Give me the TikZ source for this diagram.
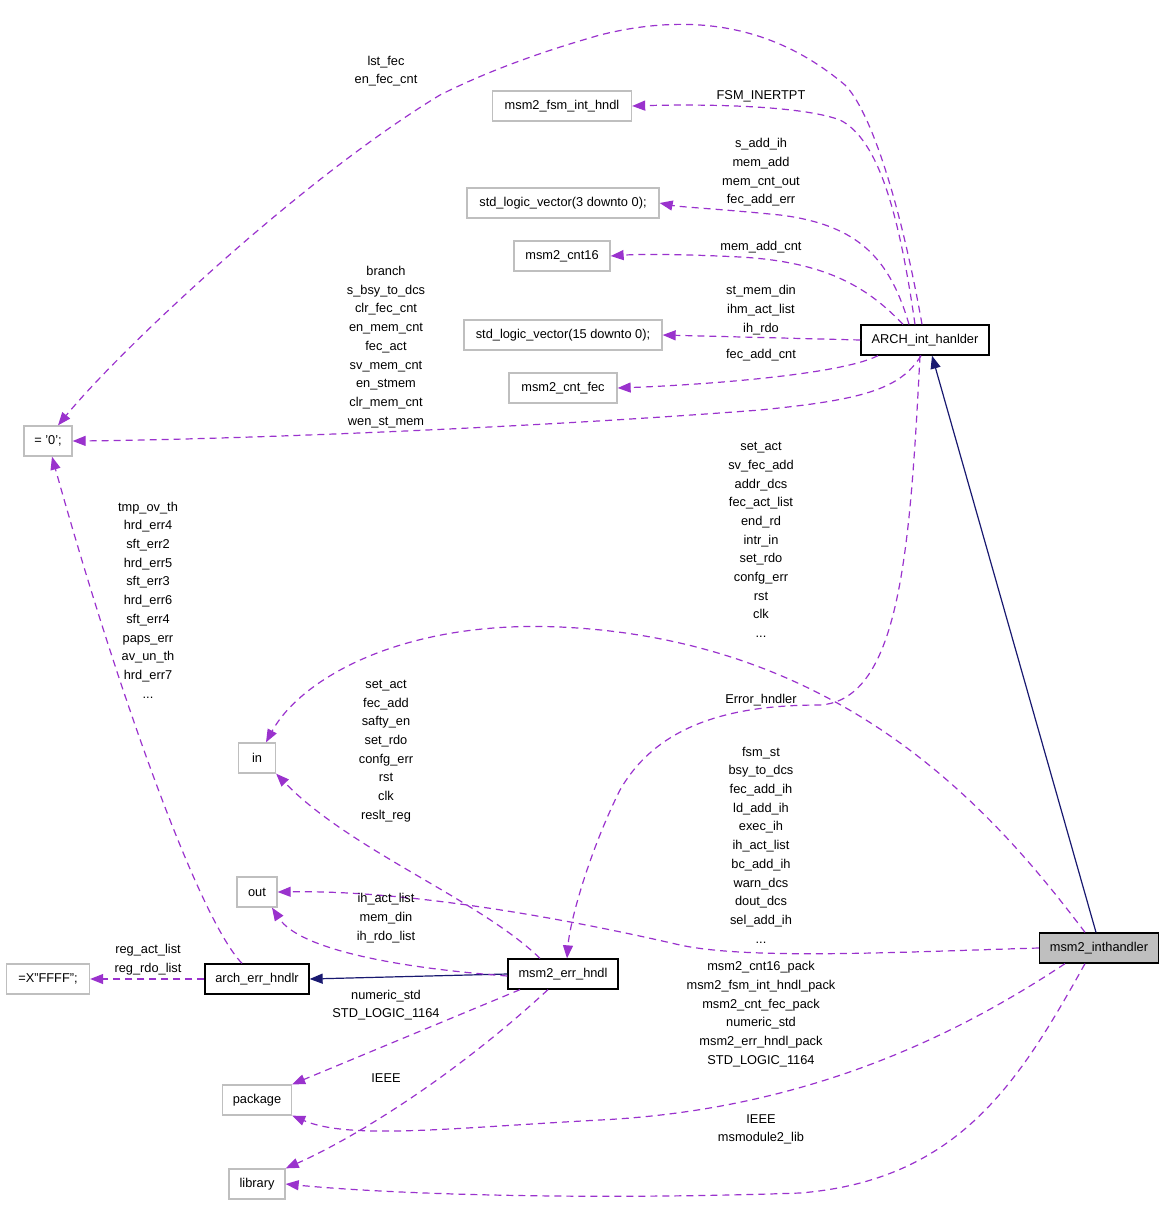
\documentclass[tikz,border=0pt]{standalone}
\usepackage{fontspec}
\setmainfont{Liberation Sans}
\usetikzlibrary{arrows.meta}
\definecolor{dep}{HTML}{9A32CD}
\definecolor{inh}{HTML}{191970}
\definecolor{gbord}{HTML}{BFBFBF}
\definecolor{ifill}{HTML}{BFBFBF}
\begin{document}
\begin{tikzpicture}[x=1pt,y=-1pt,
  every node/.style={font=\fontsize{12.8}{18.7}\selectfont, inner sep=0pt},
  box/.style={draw=gbord, line width=1.3pt, minimum height=30pt},
  bbox/.style={draw=black, line width=1.3pt, minimum height=30pt},
  mbox/.style={draw=black, fill=ifill, line width=1.3pt, minimum height=30pt},
  lab/.style={align=center},
  depedge/.style={draw=dep, line width=1.2pt, dash pattern=on 7pt off 5pt, -{Triangle[length=13pt,width=10pt]}},
  inhedge/.style={draw=inh, line width=1.2pt, -{Triangle[length=13pt,width=10pt]}}
]
\useasboundingbox (0,0) rectangle (1165,1205);

% nodes
\node[box, minimum width=139pt] (fsm) at (562,106) {msm2\_fsm\_int\_hndl};
\node[box, minimum width=192pt] (std3) at (563,203) {std\_logic\_vector(3 downto 0);};
\node[box, minimum width=96pt] (cnt16) at (562,256) {msm2\_cnt16};
\node[box, minimum width=198pt] (std15) at (563,335) {std\_logic\_vector(15 downto 0);};
\node[box, minimum width=108pt] (cntfec) at (563,388) {msm2\_cnt\_fec};
\node[bbox, minimum width=128pt] (arch) at (925,340) {ARCH\_int\_hanlder};
\node[box, minimum width=48pt] (zero) at (48,441) {= '0';};
\node[box, minimum width=37pt] (in) at (257,758) {in};
\node[box, minimum width=40pt] (out) at (257,892) {out};
\node[box, minimum width=83pt] (xffff) at (48,979) {=X"FFFF";};
\node[bbox, minimum width=104pt] (aeh) at (257,979) {arch\_err\_hndlr};
\node[bbox, minimum width=110pt] (err) at (563,974) {msm2\_err\_hndl};
\node[mbox, minimum width=119pt] (inth) at (1099,948) {msm2\_inthandler};
\node[box, minimum width=69pt] (pkg) at (257,1100) {package};
\node[box, minimum width=56pt] (lib) at (257,1184) {library};

% edges from ARCH_int_hanlder
\draw[depedge] ([xshift=-10pt]arch.north) .. controls (900,220) and (880,140) .. (840,120) .. controls (800,105) and (700,104) .. (fsm.east);
\draw[depedge] ([xshift=-16pt]arch.north) .. controls (890,260) and (860,225) .. (780,215) .. controls (720,209) and (680,207) .. (std3.east);
\draw[depedge] ([xshift=-22pt]arch.north) .. controls (870,290) and (830,262) .. (740,257) .. controls (680,254) and (640,254) .. (cnt16.east);
\draw[depedge] (arch.west) -- (std15.east);
\draw[depedge] ([xshift=-47pt]arch.south) .. controls (840,375) and (700,385) .. (cntfec.east);
\draw[depedge] ([xshift=-4pt]arch.south) .. controls (900,390) and (860,400) .. (760,410) .. controls (500,430) and (200,440) .. (zero.east);
\draw[depedge] ([xshift=-3pt]arch.north) .. controls (900,200) and (870,110) .. (845,85) .. controls (780,30) and (700,10) .. (600,35) .. controls (530,55) and (480,75) .. (440,95) .. controls (300,180) and (120,350) .. ([xshift=10pt]zero.north);
\draw[depedge] ([xshift=-5pt]arch.south) .. controls (910,550) and (900,700) .. (820,705) .. controls (740,705) and (660,720) .. (620,790) .. controls (590,850) and (570,920) .. ([xshift=4pt]err.north);

% edges from msm2_inthandler
\draw[inhedge] ([xshift=-3pt]inth.north) -- ([xshift=7pt]arch.south);
\draw[depedge] ([xshift=-14pt]inth.north) .. controls (1000,820) and (850,640) .. (560,627) .. controls (400,620) and (300,680) .. ([xshift=9pt]in.north);
\draw[depedge] (inth.west) .. controls (900,952) and (750,960) .. (680,945) .. controls (550,915) and (400,890) .. (out.east);
\draw[depedge] ([xshift=-34pt]inth.south) .. controls (950,1040) and (800,1110) .. (600,1120) .. controls (450,1128) and (350,1140) .. (pkg.south east);
\draw[depedge] ([xshift=-14pt]inth.south) .. controls (1020,1080) and (960,1180) .. (800,1193) .. controls (600,1200) and (400,1195) .. (lib.east);

% edges from msm2_err_hndl
\draw[inhedge] (err.west) -- (aeh.east);
\draw[depedge] ([xshift=-23pt]err.north) .. controls (480,900) and (350,850) .. (in.south east);
\draw[depedge] ([yshift=-2pt]err.west) .. controls (400,968) and (300,950) .. ([xshift=15pt]out.south);
\draw[depedge] ([xshift=-43pt]err.south) -- (pkg.north east);
\draw[depedge] ([xshift=-15pt]err.south) .. controls (450,1080) and (350,1140) .. (lib.north east);

% edges from arch_err_hndlr
\draw[depedge] (aeh.west) -- (xffff.east);
\draw[depedge] ([xshift=-15pt]aeh.north) .. controls (200,920) and (120,700) .. ([xshift=4pt]zero.south);

% labels
\node[lab] (l1) at (386,71) {lst\_fec\\en\_fec\_cnt};
\node[lab] (l2) at (761,96) {FSM\_INERTPT};
\node[lab] (l3) at (761,172.5) {s\_add\_ih\\mem\_add\\mem\_cnt\_out\\fec\_add\_err};
\node[lab] (l4) at (761,247) {mem\_add\_cnt};
\node[lab] (l5) at (386,347) {branch\\s\_bsy\_to\_dcs\\clr\_fec\_cnt\\en\_mem\_cnt\\fec\_act\\sv\_mem\_cnt\\en\_stmem\\clr\_mem\_cnt\\wen\_st\_mem};
\node[lab] (l6) at (761,310) {st\_mem\_din\\ihm\_act\_list\\ih\_rdo};
\node[lab] (l7) at (761,355) {fec\_add\_cnt};
\node[lab] (l8) at (761,540) {set\_act\\sv\_fec\_add\\addr\_dcs\\fec\_act\_list\\end\_rd\\intr\_in\\set\_rdo\\confg\_err\\rst\\clk\\...};
\node[lab] (l9) at (148,600) {tmp\_ov\_th\\hrd\_err4\\sft\_err2\\hrd\_err5\\sft\_err3\\hrd\_err6\\sft\_err4\\paps\_err\\av\_un\_th\\hrd\_err7\\...};
\node[lab] (l10) at (386,751) {set\_act\\fec\_add\\safty\_en\\set\_rdo\\confg\_err\\rst\\clk\\reslt\_reg};
\node[lab] (l11) at (761,700) {Error\_hndler};
\node[lab] (l12) at (761,845) {fsm\_st\\bsy\_to\_dcs\\fec\_add\_ih\\ld\_add\_ih\\exec\_ih\\ih\_act\_list\\bc\_add\_ih\\warn\_dcs\\dout\_dcs\\sel\_add\_ih\\...};
\node[lab] (l13) at (386,918) {ih\_act\_list\\mem\_din\\ih\_rdo\_list};
\node[lab] (l14) at (148,959.5) {reg\_act\_list\\reg\_rdo\_list};
\node[lab] (l15) at (761,1014) {msm2\_cnt16\_pack\\msm2\_fsm\_int\_hndl\_pack\\msm2\_cnt\_fec\_pack\\numeric\_std\\msm2\_err\_hndl\_pack\\STD\_LOGIC\_1164};
\node[lab] (l16) at (386,1005) {numeric\_std\\STD\_LOGIC\_1164};
\node[lab] (l17) at (386,1078) {IEEE};
\node[lab] (l18) at (761,1129.5) {IEEE\\msmodule2\_lib};
\end{tikzpicture}
\end{document}
